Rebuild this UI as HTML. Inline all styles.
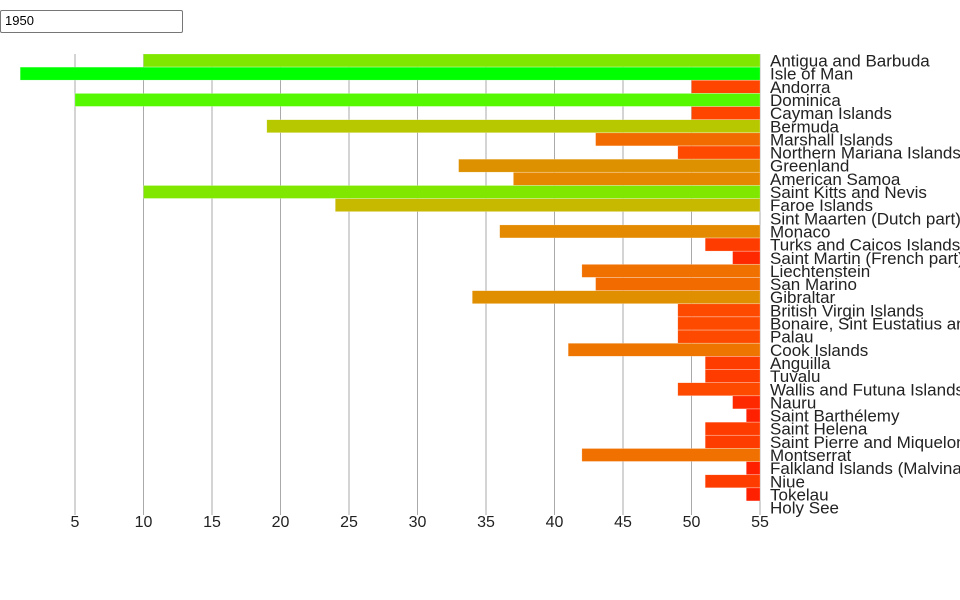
<!DOCTYPE html>
<html><head><meta charset="utf-8"><style>
body{margin:0;background:#fff;width:960px;height:600px;overflow:hidden;font-family:"Liberation Sans",sans-serif}
#inp{position:absolute;left:0;top:10px;width:183px;height:23px;border:1px solid #767676;border-radius:2px;box-sizing:border-box;font-size:13px;padding:3px 4px;line-height:14px}
svg{position:absolute;left:0;top:0}
</style></head><body>
<div id="inp">1950</div>
<svg id="s" width="960" height="600" xmlns="http://www.w3.org/2000/svg"></svg>
<script>
var d=[["Antigua and Barbuda",10],["Isle of Man",1],["Andorra",50],["Dominica",5],["Cayman Islands",50],["Bermuda",19],["Marshall Islands",43],["Northern Mariana Islands",49],["Greenland",33],["American Samoa",37],["Saint Kitts and Nevis",10],["Faroe Islands",24],["Sint Maarten (Dutch part)",55],["Monaco",36],["Turks and Caicos Islands",51],["Saint Martin (French part)",53],["Liechtenstein",42],["San Marino",43],["Gibraltar",34],["British Virgin Islands",49],["Bonaire, Sint Eustatius and Saba",49],["Palau",49],["Cook Islands",41],["Anguilla",51],["Tuvalu",51],["Wallis and Futuna Islands",49],["Nauru",53],["Saint Barthélemy",54],["Saint Helena",51],["Saint Pierre and Miquelon",51],["Montserrat",42],["Falkland Islands (Malvinas)",54],["Niue",51],["Tokelau",54],["Holy See",55]];
var cp=[[1,0,255,0],[5,85,248,0],[10,128,232,0],[19,184,200,0],[24,198,185,0],[33,222,145,0],[37,230,135,0],[42,240,112,0],[50,255,69,0],[54,255,32,0],[55,255,20,0]];
function col(v){for(var i=0;i<cp.length-1;i++){if(v<=cp[i+1][0]){var a=cp[i],b=cp[i+1],f=(v-a[0])/(b[0]-a[0]);return 'rgb('+[1,2,3].map(function(k){return Math.round(a[k]+(b[k]-a[k])*f)}).join(',')+')';}}return 'red';}
function X(v){return 75+(v-5)*13.7;}
var h='';
for(var t=5;t<=55;t+=5){var x=X(t);h+='<line x1="'+x+'" y1="54" x2="'+x+'" y2="515" stroke="#aaa" stroke-width="1"/>';h+='<text x="'+x+'" y="527" font-size="16" text-anchor="middle" fill="#222">'+t+'</text>';}
var sp=13.15;
d.forEach(function(r,i){var y=54+i*sp;var x=X(r[1]);
if(r[1]<55)h+='<rect x="'+x+'" y="'+y+'" width="'+(760-x)+'" height="'+(sp-0.2)+'" fill="'+col(r[1])+'" stroke="rgba(255,255,255,0.4)" stroke-width="0.5"/>';
h+='<text x="770" y="'+(y+12.5)+'" font-size="17" fill="#222">'+r[0].replace('&','&amp;')+'</text>';});
document.getElementById('s').innerHTML=h;
</script>
</body></html>
